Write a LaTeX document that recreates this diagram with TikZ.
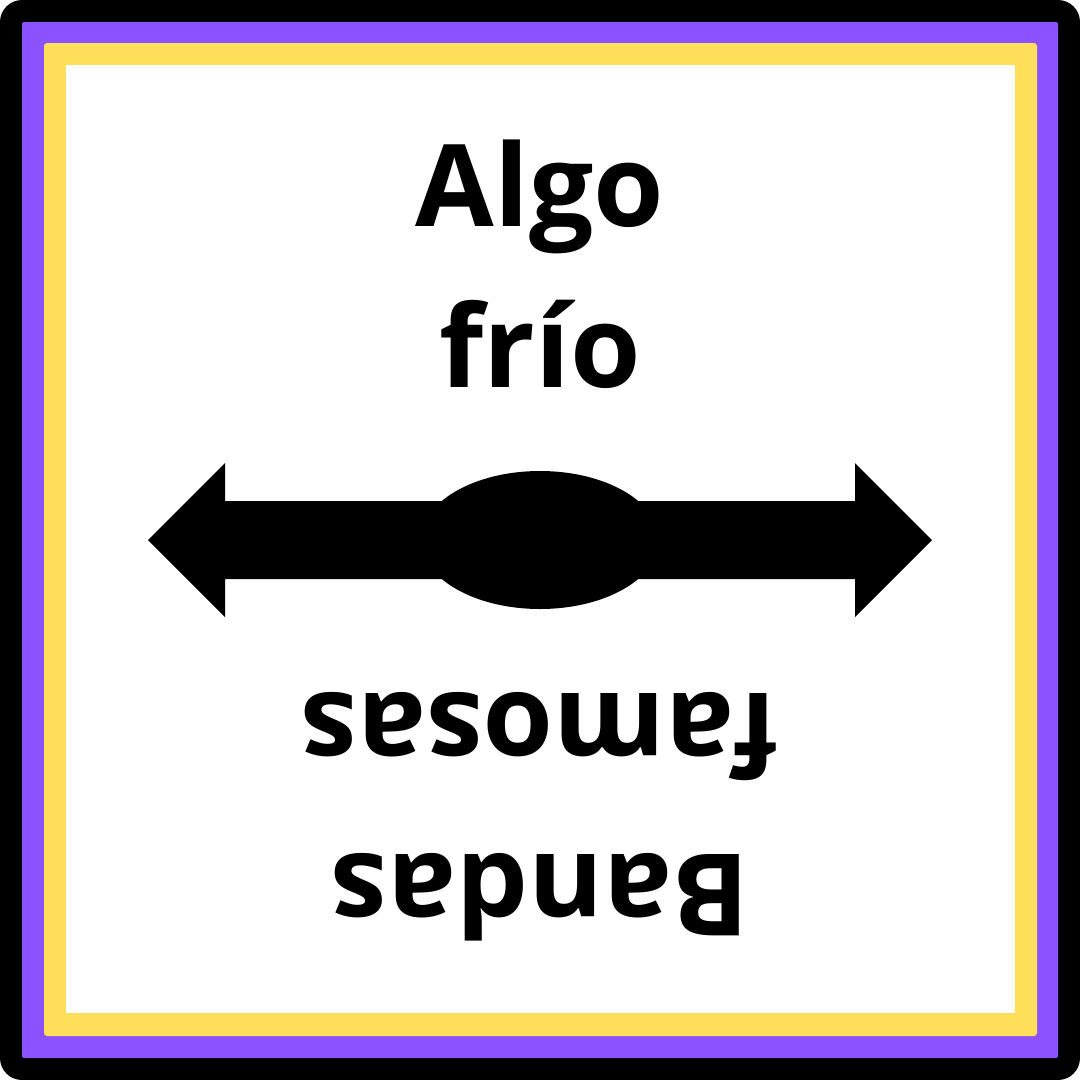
\documentclass[tikz,border=0pt]{standalone}
\usepackage{fontspec}
\setmainfont{Open Sans}
\definecolor{bandpurple}{HTML}{8C52FF}
\definecolor{bandyellow}{HTML}{FFDE59}
\begin{document}
\begin{tikzpicture}[x=1pt,y=-1pt,
  bigtext/.style={font=\fontsize{114}{140}\selectfont\bfseries, inner sep=0pt, anchor=base, text=black}]
\useasboundingbox (0,0) rectangle (1080,1080);
% frames
\fill[black, rounded corners=22pt] (0,0) rectangle (1080,1080);
\fill[bandpurple, rounded corners=2pt] (22,22) rectangle (1058,1058);
\fill[bandyellow, rounded corners=3pt] (44,43) rectangle (1037,1036);
\fill[white] (66,65) rectangle (1015,1013);
% double arrow
\fill[black] (148,540) -- (225,463) -- (225,501) -- (855,501) -- (855,463) -- (932,540)
  -- (855,617) -- (855,579) -- (225,579) -- (225,617) -- cycle;
\fill[black] (540,540) ellipse [x radius=119, y radius=69];
% texts
\node[bigtext] (t1) at (540,226) {Algo};
\node[bigtext] (t2) at (540,387) {frío};
\node[bigtext, rotate=180] (b1) at (540,854) {Bandas};
\node[bigtext, rotate=180] (b2) at (540,693) {famosas};
\end{tikzpicture}
\end{document}
